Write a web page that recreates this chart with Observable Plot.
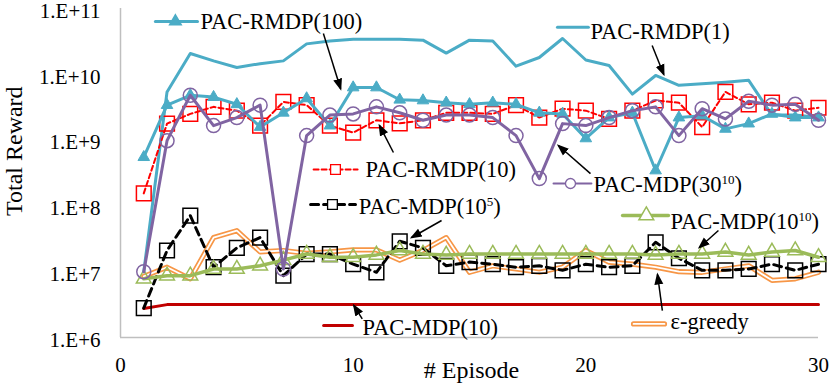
<!DOCTYPE html>
<html><head><meta charset="utf-8">
<script src="https://cdn.jsdelivr.net/npm/d3@7"></script>
<script src="https://cdn.jsdelivr.net/npm/@observablehq/plot@0.6"></script>
<style>body{margin:0;background:#fff}</style>
</head><body><div id="chart"></div>
<script>
const episodes = [1,2,3,4,5,6,7,8,9,10,11,12,13,14,15,16,17,18,19,20,21,22,23,24,25,26,27,28,29,30];
const xTicks = [0,10,20,30];
const yTicks = [1e6,1e7,1e8,1e9,1e10,1e11];

const rmdp1   = [1.0e7,5.4e9,2.07e10,1.6e10,1.27e10,1.45e10,1.6e10,2.9e10,3.2e10,3.4e10,3.4e10,3.4e10,3.3e10,2.1e10,3.3e10,3.2e10,1.33e10,1.8e10,3.5e10,1.65e10,1.36e10,5.0e9,9.6e9,6.8e9,7.2e9,7.6e9,8.1e9,2.4e9,2.4e9,2.2e9];
const rmdp100 = [5.5e8,3.4e9,4.8e9,4.5e9,3.5e9,1.58e9,2.6e9,4.3e9,1.66e9,6.3e9,6.3e9,4.1e9,4.0e9,3.7e9,3.5e9,3.7e9,3.5e9,2.6e9,2.5e9,1.06e9,2.2e9,2.6e9,3.45e8,2.2e9,2.35e9,1.48e9,1.78e9,2.5e9,2.2e9,2.2e9];
const rmdp10  = [1.55e8,1.78e9,2.5e9,3.2e9,2.8e9,1.66e9,3.8e9,3.4e9,1.66e9,1.3e9,2.0e9,1.8e9,2.0e9,2.6e9,2.6e9,2.5e9,3.4e9,2.2e9,3.0e9,2.8e9,2.1e9,2.8e9,4.0e9,3.7e9,1.58e9,5.4e9,3.5e9,3.7e9,2.8e9,3.1e9];
const mdp3010 = [1.0e7,9.8e8,4.8e9,1.66e9,2.2e9,3.4e9,1.1e7,1.17e9,2.4e9,2.5e9,3.2e9,2.6e9,2.0e9,2.4e9,2.4e9,2.2e9,1.17e9,2.6e8,1.78e9,1.66e9,2.2e9,2.8e9,3.2e9,1.17e9,3.0e9,2.1e9,3.9e9,3.4e9,3.5e9,2.0e9];
const mdp105  = [2.8e6,2.1e7,7.1e7,1.17e7,2.3e7,3.3e7,8.7e6,1.85e7,1.85e7,1.3e7,9.8e6,2.9e7,2.3e7,1.23e7,1.4e7,1.3e7,1.17e7,1.23e7,1.05e7,1.3e7,1.17e7,1.23e7,2.8e7,1.6e7,1.05e7,1.05e7,1.1e7,1.3e7,1.05e7,1.3e7];
const mdp1010 = [7.8e6,8.7e6,8.7e6,1.1e7,1.1e7,1.23e7,1.5e7,1.86e7,1.66e7,1.66e7,1.8e7,2.1e7,1.86e7,1.8e7,1.86e7,1.86e7,1.86e7,1.86e7,1.86e7,1.86e7,1.86e7,1.86e7,1.8e7,1.86e7,1.86e7,2.0e7,1.8e7,2.0e7,2.1e7,1.66e7];
const greedy  = [8.5e6,1.17e7,7.8e6,3.3e7,4.2e7,2.0e7,2.1e7,1.9e7,2.0e7,2.15e7,2.15e7,1.5e7,2.1e7,3.3e7,9.8e6,1.23e7,1.1e7,9.8e6,1.17e7,2.1e7,1.4e7,1.3e7,1.17e7,1.0e7,9.8e6,1.1e7,1.23e7,7.4e6,7.8e6,9.8e6];
const mdp10   = [2.75e6,3.16e6,3.16e6,3.16e6,3.16e6,3.16e6,3.16e6,3.16e6,3.16e6,3.16e6,3.16e6,3.16e6,3.16e6,3.16e6,3.16e6,3.16e6,3.16e6,3.16e6,3.16e6,3.16e6,3.16e6,3.16e6,3.16e6,3.16e6,3.16e6,3.16e6,3.16e6,3.16e6,3.16e6,3.16e6];

// annotation labels (data units)
const labelText = ["PAC-RMDP(100)","PAC-RMDP(1)","PAC-RMDP(10)","PAC-MDP(30^10)","PAC-MDP(10^5)","PAC-MDP(10^10)","\u03b5-greedy","PAC-MDP(10)"];
const labelX    = [3.44, 20.20, 10.53, 20.33, 10.24, 23.64, 23.64, 10.40];
const labelY    = [6.34e10, 4.36e10, 3.57e8, 2.11e8, 9.55e7, 5.8e7, 1.75e6, 1.39e6];
// legend key segments
const keyX1 = [1.50, 18.78, 8.30, 18.61, 8.17, 21.58, 22.05, 8.73];
const keyX2 = [3.31, 20.11, 10.19, 20.24, 10.10, 23.55, 23.38, 9.97];
const keyY  = [6.34e10, 5.2e10, 3.57e8, 2.19e8, 1.05e8, 7.15e7, 1.61e6, 1.52e6];
const keyM  = [2.36, null, 9.24, 19.34, 9.11, 22.60, null, null];
// arrows
const arrX1 = [8.72, 22.85, 11.73, 20.20, 13.80, 25.70, 23.29, 10.39];
const arrY1 = [4.17e10, 2.74e10, 6.48e8, 3.1e8, 6.0e7, 4.23e7, 2.57e6, 1.92e6];
const arrX2 = [9.46, 23.35, 11.13, 18.82, 12.51, 24.88, 23.08, 10.03];
const arrY2 = [6.03e9, 9.93e9, 1.67e9, 8.28e8, 3.31e7, 2.33e7, 9.06e6, 3.06e6];

const rows = s => episodes.map((e, i) => ({e, v: s[i]}));
const keyRow = i => [{e: keyX1[i], v: keyY[i]}, {e: keyX2[i], v: keyY[i]}];
const keyDot = i => [{e: keyM[i], v: keyY[i]}];

const CYAN = "#4bacc6", RED = "#ff0000", PURPLE = "#8064a2", GREEN = "#9bbb59", ORANGE = "#f79646", DRED = "#c00000";

function headMarker(color, context) {
  const m = d3.create("svg:marker")
    .attr("viewBox", "-6 -6 12 12")
    .attr("markerWidth", 12).attr("markerHeight", 12)
    .attr("markerUnits", "userSpaceOnUse")
    .attr("refX", 4)
    .attr("orient", "auto")
    .attr("fill", color).attr("stroke", "none");
  m.append("path").attr("d", "M-6,-4.5L6,0L-6,4.5Z");
  return m.node();
}
let arrowMarker = headMarker;
try { Plot.link([], {x1: 0, x2: 0, y1: 0, y2: 0, markerEnd: headMarker}); } catch (e) { arrowMarker = "arrow"; }

const arrows = labelText.map((t, i) => ({x1: arrX1[i], y1: arrY1[i], x2: arrX2[i], y2: arrY2[i]}));
const labels = labelText.map((t, i) => ({x: labelX[i], y: labelY[i], t}));

const seriesLine = (s, o) => Plot.line(rows(s), {x: "e", y: "v", ...o});
const seriesDot = (s, o) => Plot.dot(rows(s), {x: "e", y: "v", ...o});

const marks = [
  Plot.ruleX([0], {stroke: "#bfbfbf", strokeWidth: 1.5}),
  Plot.ruleY([1e6], {stroke: "#bfbfbf", strokeWidth: 1.5}),
  // PAC-MDP(10)
  seriesLine(mdp10, {stroke: DRED, strokeWidth: 3}),
  Plot.line(keyRow(7), {x: "e", y: "v", stroke: DRED, strokeWidth: 3}),
  // epsilon-greedy
  seriesLine(greedy, {stroke: ORANGE, strokeWidth: 5.2}),
  seriesLine(greedy, {stroke: "#fff", strokeWidth: 1.8}),
  Plot.line(keyRow(6), {x: "e", y: "v", stroke: ORANGE, strokeWidth: 5.2}),
  Plot.line(keyRow(6), {x: "e", y: "v", stroke: "#fff", strokeWidth: 1.8}),
  // PAC-MDP(10^5)
  seriesLine(mdp105, {stroke: "#000", strokeWidth: 3, strokeDasharray: "8,5"}),
  seriesDot(mdp105, {symbol: "square", r: 8.3, stroke: "#000", strokeWidth: 1.5, fill: "none"}),
  Plot.line(keyRow(4), {x: "e", y: "v", stroke: "#000", strokeWidth: 3, strokeDasharray: "8,5"}),
  Plot.dot(keyDot(4), {x: "e", y: "v", symbol: "square", r: 5.5, stroke: "#000", strokeWidth: 1.3, fill: "#fff"}),
  // PAC-MDP(10^10)
  seriesLine(mdp1010, {stroke: GREEN, strokeWidth: 3.5}),
  seriesDot(mdp1010, {symbol: "triangle", r: 5.5, stroke: GREEN, strokeWidth: 1.5, fill: "none"}),
  Plot.line(keyRow(5), {x: "e", y: "v", stroke: GREEN, strokeWidth: 3.5}),
  Plot.dot(keyDot(5), {x: "e", y: "v", symbol: "triangle", r: 5.5, stroke: GREEN, strokeWidth: 1.5, fill: "#fff"}),
  // PAC-RMDP(1)
  seriesLine(rmdp1, {stroke: CYAN, strokeWidth: 3}),
  Plot.line(keyRow(1), {x: "e", y: "v", stroke: CYAN, strokeWidth: 3}),
  // PAC-RMDP(10)
  seriesLine(rmdp10, {stroke: RED, strokeWidth: 2, strokeDasharray: "5,3"}),
  seriesDot(rmdp10, {symbol: "square", r: 8.3, stroke: RED, strokeWidth: 1.5, fill: "none"}),
  Plot.line(keyRow(2), {x: "e", y: "v", stroke: RED, strokeWidth: 2, strokeDasharray: "5,3"}),
  Plot.dot(keyDot(2), {x: "e", y: "v", symbol: "square", r: 5.5, stroke: RED, strokeWidth: 1.3, fill: "#fff"}),
  // PAC-RMDP(100)
  seriesLine(rmdp100, {stroke: CYAN, strokeWidth: 3}),
  seriesDot(rmdp100, {symbol: "triangle", r: 4.3, fill: CYAN, stroke: CYAN, strokeWidth: 1}),
  Plot.line(keyRow(0), {x: "e", y: "v", stroke: CYAN, strokeWidth: 3}),
  Plot.dot(keyDot(0), {x: "e", y: "v", symbol: "triangle", r: 4.3, fill: CYAN, stroke: CYAN}),
  // PAC-MDP(30^10)
  seriesLine(mdp3010, {stroke: PURPLE, strokeWidth: 3}),
  seriesDot(mdp3010, {symbol: "circle", r: 7, stroke: PURPLE, strokeWidth: 1.5, fill: "none"}),
  Plot.line(keyRow(3), {x: "e", y: "v", stroke: PURPLE, strokeWidth: 2}),
  Plot.dot(keyDot(3), {x: "e", y: "v", symbol: "circle", r: 5, stroke: PURPLE, strokeWidth: 1.3, fill: "#fff"}),
  // arrows
  Plot.link(arrows, {x1: "x1", y1: "y1", x2: "x2", y2: "y2", stroke: "#000", strokeWidth: 1.5, markerEnd: arrowMarker}),
  // labels
  Plot.text(labels, {x: "x", y: "y", text: "t", textAnchor: "start", fontSize: 22.5, fill: "#000"}),
  // axis titles
  Plot.text(["Total Reward"], {frameAnchor: "left", dx: -106, dy: 43, rotate: -90, fontSize: 24, fill: "#000"}),
  Plot.text(["# Episode"], {frameAnchor: "bottom", dx: 2, dy: 40, fontSize: 24, fill: "#000"})
];

const svg = Plot.plot({
  width: 830, height: 390,
  marginLeft: 120, marginRight: 12, marginTop: 8, marginBottom: 53,
  style: {fontFamily: "'Liberation Serif', 'Times New Roman', serif", fontSize: "21px", background: "#fff", color: "#000", overflow: "visible"},
  x: {domain: [0, 30], ticks: xTicks, tickSize: 0, tickPadding: 20, label: null, tickFormat: d => String(d)},
  y: {type: "log", domain: [1e6, 1e11], ticks: yTicks, tickSize: 0, tickPadding: 20, label: null,
      tickFormat: d => "1.E+" + Math.round(Math.log10(d))},
  marks
});

d3.select(svg).selectAll("text").each(function() {
  const t = this.textContent;
  if (/^1\.E\+\d+$/.test(t)) {
    this.setAttribute("dy", "2.5");
    return;
  }
  const m = t.match(/^(.*)\^(\d+)(.*)$/);
  if (!m) return;
  const sel = d3.select(this);
  sel.text(null);
  sel.append("tspan").text(m[1]);
  sel.append("tspan").attr("dy", "-8").attr("font-size", "13px").text(m[2]);
  sel.append("tspan").attr("dy", "8").text(m[3]);
});

document.getElementById("chart").appendChild(svg);
</script>
</body></html>
